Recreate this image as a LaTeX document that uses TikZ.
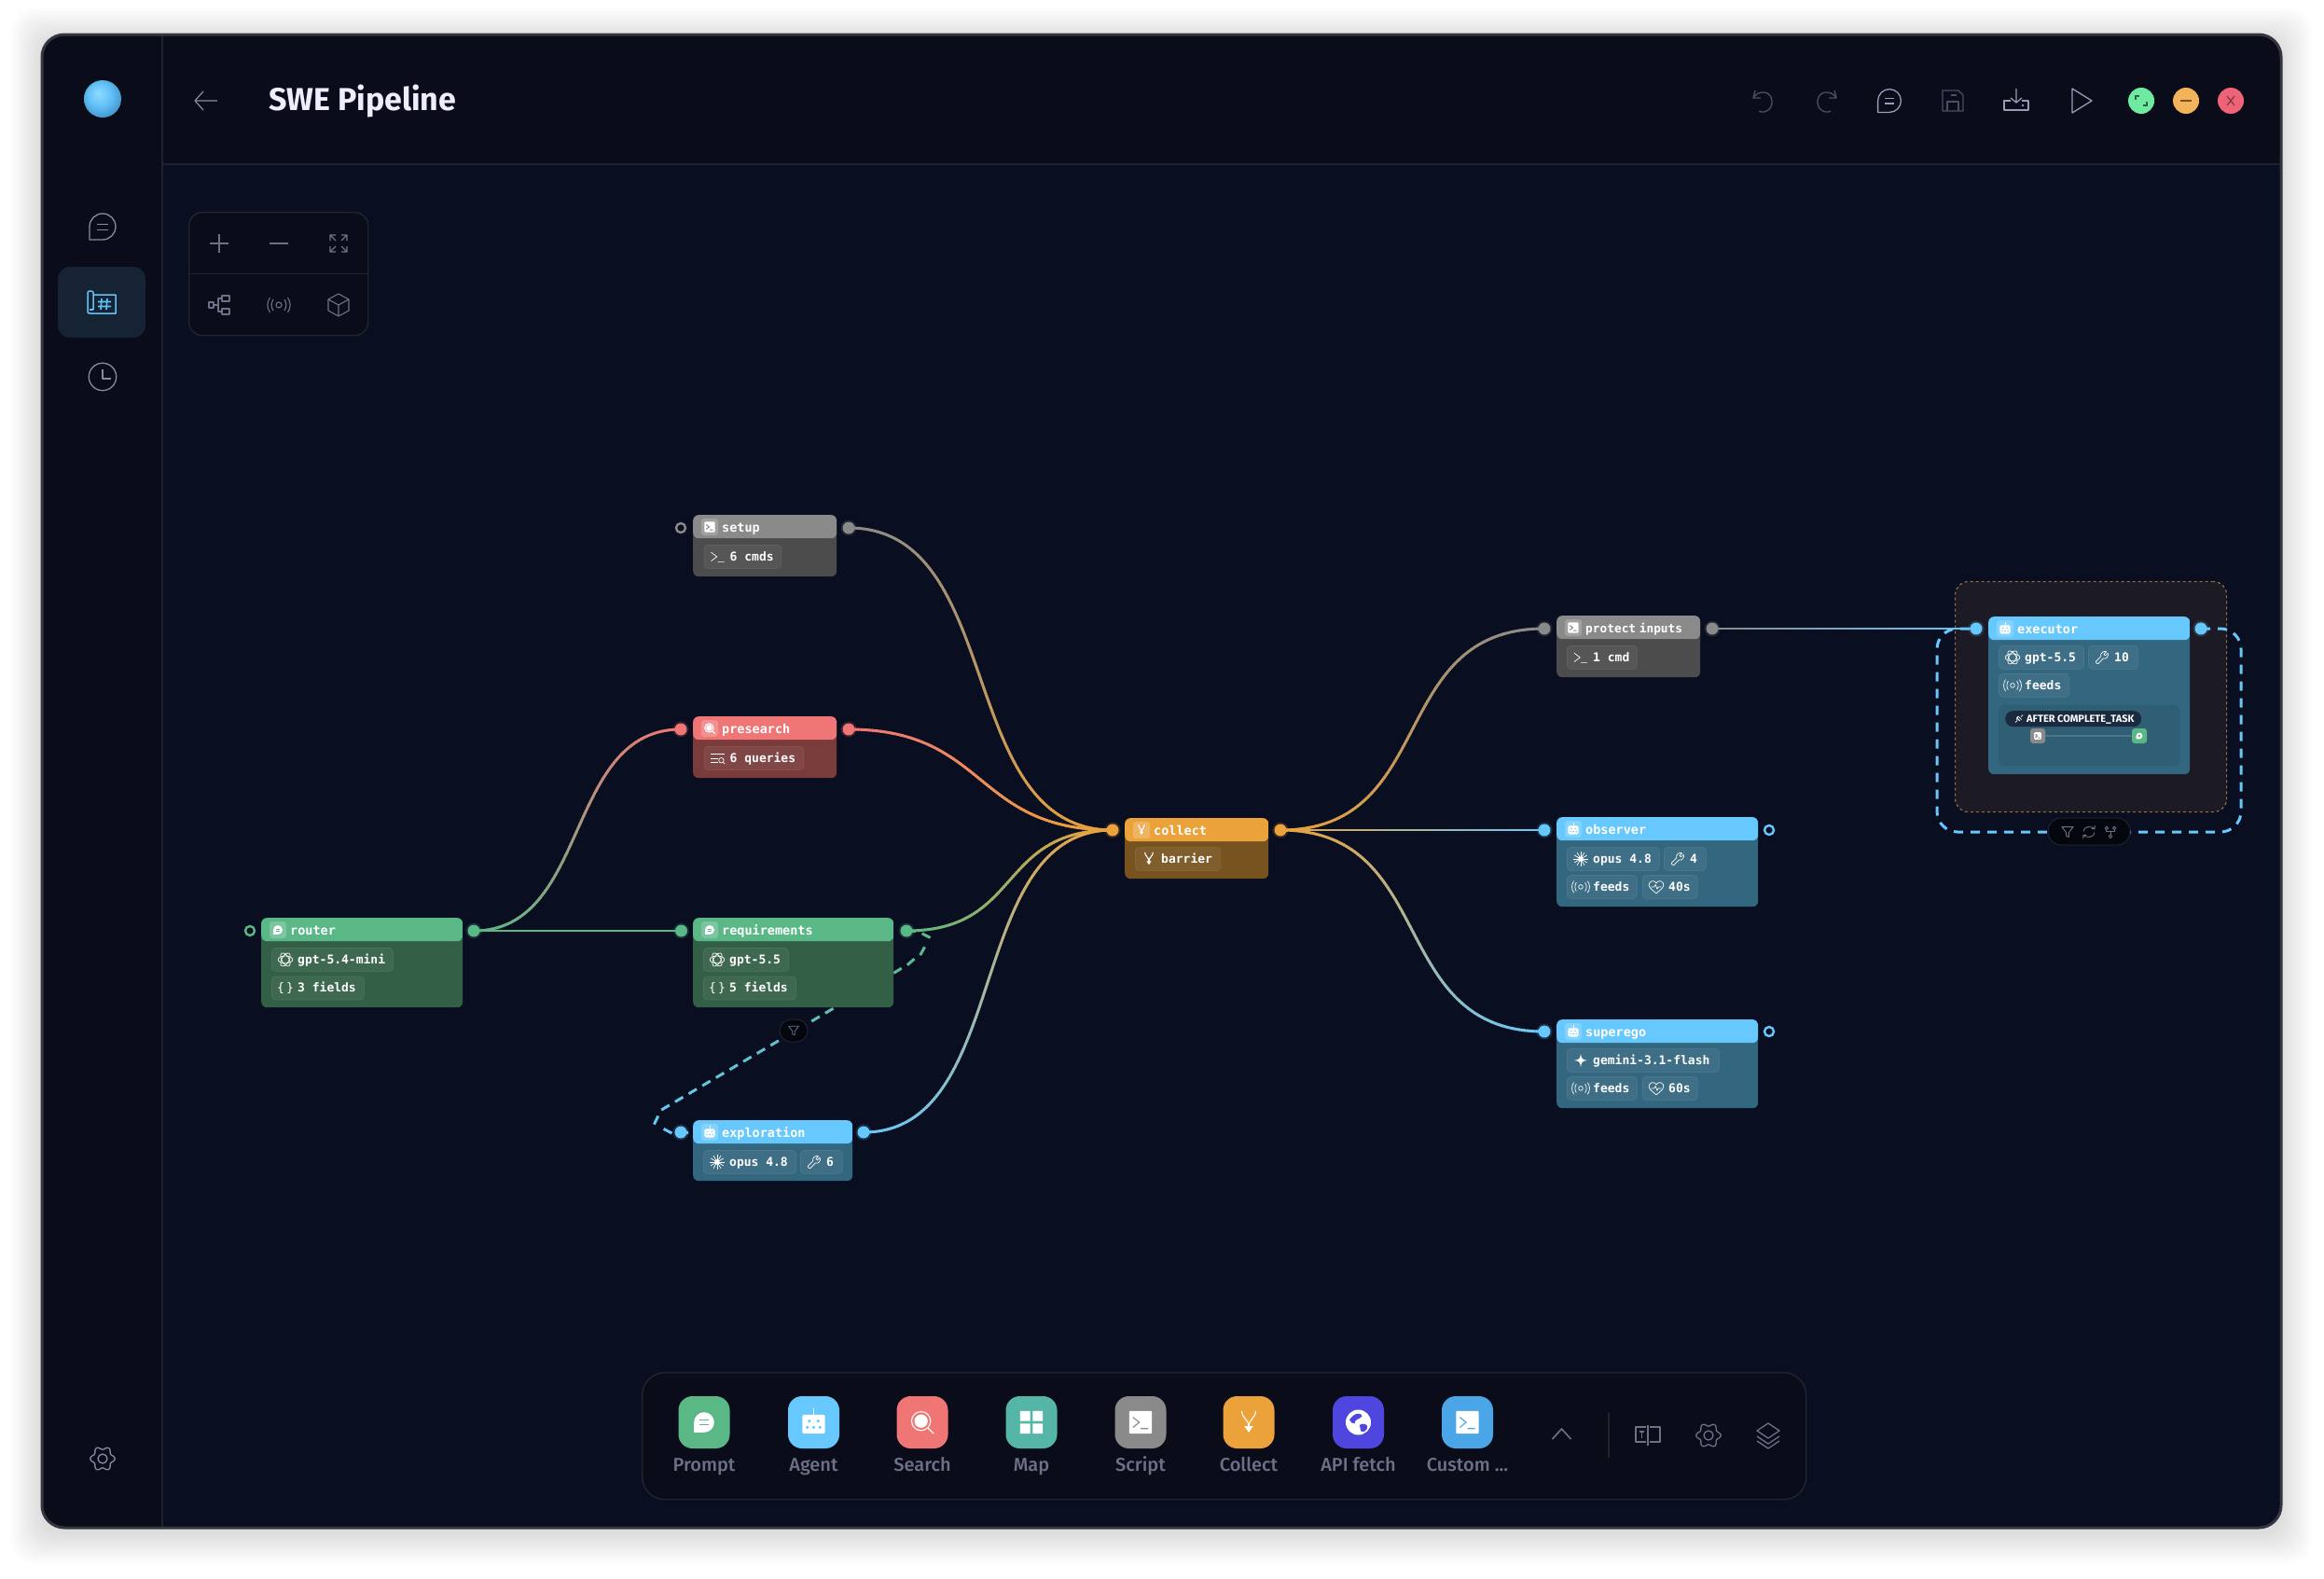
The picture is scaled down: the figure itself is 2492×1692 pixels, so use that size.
\documentclass[tikz,border=0pt]{standalone}
\usepackage{fontspec}
\setmainfont{Fira Sans}
\newfontfamily\wfmono{DejaVu Sans Mono}
\newfontfamily\wfdockfont{Fira Sans Medium}
\usetikzlibrary{
  calc,
  decorations.markings,
}
\pgfdeclarelayer{background}
\pgfdeclarelayer{edges}
\pgfsetlayers{background,edges,main}

% Palette
\definecolor{sideBg}{HTML}{0A0D19}
\definecolor{canvasBg}{HTML}{090E20}
\definecolor{frameLine}{HTML}{34353F}
\definecolor{splitLine}{HTML}{1D202D}
\definecolor{panelLine}{HTML}{22242E}
\definecolor{uiBright}{HTML}{959DB8}
\definecolor{uiSide}{HTML}{868BA3}
\definecolor{uiMid}{HTML}{6C7188}
\definecolor{uiDim}{HTML}{4A4F63}
\definecolor{planBlue}{HTML}{62C3F7}
\definecolor{promptHead}{HTML}{5AB886}
\definecolor{promptBody}{HTML}{335F47}
\definecolor{agentHead}{HTML}{66C8FC}
\definecolor{agentBody}{HTML}{33667F}
\definecolor{searchHead}{HTML}{F07575}
\definecolor{searchBody}{HTML}{7A3B3B}
\definecolor{scriptHead}{HTML}{8A8A8A}
\definecolor{scriptBody}{HTML}{4C4C4C}
\definecolor{collectHead}{HTML}{EBA23B}
\definecolor{collectBody}{HTML}{77531F}
\definecolor{mapHead}{HTML}{55B6A8}
\definecolor{fetchHead}{HTML}{4F46E0}
\definecolor{customHead}{HTML}{4BA6E8}
\definecolor{groupFill}{HTML}{1C1A25}
\definecolor{groupLine}{HTML}{9A7040}
\definecolor{hookBadge}{HTML}{1A2A3F}
\definecolor{badgeFill}{HTML}{04060E}
\definecolor{winGreen}{HTML}{6EEBA0}
\definecolor{winOrange}{HTML}{F2B35A}
\definecolor{winRed}{HTML}{EE6378}

\pgfdeclareradialshading{logoball}{\pgfpoint{-6bp}{8bp}}{
  rgb(0bp)=(.56,.86,1); rgb(16bp)=(.38,.75,.97); rgb(32bp)=(.24,.55,.75); rgb(50bp)=(.2,.45,.62)}

\tikzset{
  x=1pt,
  y=-1pt,
  wflabel/.style={
    anchor=base west,
    inner sep=0pt,
    text=white,
    font=\wfmono\bfseries\fontsize{13.5}{14}\selectfont
  },
  wfpilltext/.style={
    anchor=base west,
    inner sep=0pt,
    text=white!95,
    font=\wfmono\bfseries\fontsize{13}{14}\selectfont
  },
  wfnodebox/.style 2 args={
    anchor=north west,
    inner sep=0pt,
    fill=#2,
    rounded corners=6pt,
    path picture={
      \fill[#1] (path picture bounding box.north west)
        rectangle ([yshift=-25pt]path picture bounding box.north east);
    }
  },
  wficonbox/.style={
    fill=white,
    fill opacity=.2,
    rounded corners=3pt,
    minimum size=18pt,
    inner sep=0pt
  },
  wfpill/.style={
    anchor=north west,
    inner sep=0pt,
    minimum height=25pt,
    rounded corners=4pt,
    fill=white,
    fill opacity=.06,
    draw=white,
    draw opacity=.08,
    line width=.8pt
  },
  wfdot/.style={
    circle,
    fill=#1,
    minimum size=13pt,
    inner sep=0pt,
    preaction={draw=#1,line width=4pt,draw opacity=.18}
  },
  wfopen/.style={
    circle,
    draw=#1,
    fill=canvasBg,
    line width=2.4pt,
    minimum size=10pt,
    inner sep=0pt
  },
  wfflow/.style 2 args={
    decoration={
      markings,
      mark=between positions 0 and 1 step 3pt with {
        \pgfmathsetmacro\wfpct{min(100,100*(\pgfkeysvalueof{/pgf/decoration/mark info/distance from start}/\pgfdecoratedpathlength))}
        \draw[line width=2.9pt,color={#2!\wfpct!#1}] (-2.2,0) -- (2.2,0);
      }
    },
    decorate
  },
  wfdashflow/.style 2 args={
    decoration={
      markings,
      mark=between positions 0 and 1 step 17pt with {
        \pgfmathsetmacro\wfpct{min(100,100*(\pgfkeysvalueof{/pgf/decoration/mark info/distance from start}/\pgfdecoratedpathlength))}
        \draw[line width=3pt,color={#2!\wfpct!#1}] (0,0) -- (10,0);
      }
    },
    decorate
  },
  wfloop/.style={
    draw=agentHead,
    line width=3pt,
    dash pattern=on 10pt off 8pt,
    rounded corners=22pt
  },
  wfbadge/.style={
    fill=badgeFill,
    draw=panelLine,
    line width=1pt,
    inner sep=0pt
  },
  wftile/.style={
    rounded corners=15pt,
    minimum width=55pt,
    minimum height=56pt,
    inner sep=0pt
  },
  wftilelabel/.style={
    anchor=base,
    inner sep=0pt,
    text=uiMid,
    font=\wfdockfont\fontsize{20}{21}\selectfont
  },
  wfpanel/.style={
    fill=sideBg,
    draw=panelLine,
    line width=1.4pt,
    anchor=north west,
    inner sep=0pt
  },
  wfui/.style={
    color=#1,
    line width=1.3pt,
    line join=round
  },
  wficon/.style={
    color=white!85,
    line width=.7pt,
    line join=round
  },
  % marks of the block kinds, box of about 20 by 20
  markprompt/.pic={
    \fill (-8,8) -- (-8,0) .. controls (-8,-4.4) and (-4.4,-8) .. (0,-8)
      .. controls (4.4,-8) and (8,-4.4) .. (8,0)
      .. controls (8,4.4) and (4.4,8) .. (0,8) -- cycle;
    \draw[promptHead,line width=1pt] (-3.5,-1.5) -- (3.5,-1.5) (-3.5,2) -- (3.5,2);
  },
  markagent/.pic={
    \fill[rounded corners=2pt] (-9,-6) rectangle (9,9);
    \draw[line width=.8pt] (0,-6) -- (0,-11);
    \foreach \px/\py in {-3.5/-1,3.5/-1,-5/4,0/4,5/4} {
      \fill[agentHead] (\px,\py) circle (1.3);
    }
  },
  markscript/.pic={
    \fill[rounded corners=1pt] (-9,-9) rectangle (9,9);
    \draw[scriptHead,line width=1.1pt] (-6,-4) -- (-1,0) -- (-6,4) (0,5) -- (6,5);
  },
  markcustom/.pic={
    \fill[rounded corners=1pt] (-9,-9) rectangle (9,9);
    \draw[customHead,line width=1.1pt] (-6,-4) -- (-1,0) -- (-6,4) (0,5) -- (6,5);
  },
  marksearch/.pic={
    \draw[line width=1.1pt] (-1,-1) circle (7.5);
    \fill (-1,-1) circle (5.3);
    \draw[line width=1.1pt] (4.5,4.5) -- (9,9);
  },
  markcollect/.pic={
    \draw[line width=1.1pt] (-5.5,-9) .. controls (-5.5,-3) and (0,-3) .. (0,4)
      (5.5,-9) .. controls (5.5,-3) and (0,-3) .. (0,4);
    \fill (-3.5,3) -- (3.5,3) -- (0,8) -- cycle;
  },
  markmap/.pic={
    \fill (-9,-9) rectangle (-1,-1) (1,-9) rectangle (9,-1)
      (-9,1) rectangle (-1,9) (1,1) rectangle (9,9);
  },
  markfetch/.pic={
    \fill (0,0) circle (10);
    \fill[fetchHead] (-7,-2) .. controls (-3,-8) and (2,-8) .. (3,-5)
      .. controls (1,-2) and (-3,-3) .. (-3,1) .. controls (-5,1) and (-6,0) .. (-7,-2);
    \fill[fetchHead] (1,2) .. controls (5,0) and (8,2) .. (7,5)
      .. controls (5,8) and (3,8) .. (2,7) -- cycle;
  },
  % icons of the pills
  iconopenai/.pic={
    \foreach \a in {0,60,120} {
      \draw[rotate=\a] (0,0) ellipse [x radius=10,y radius=5];
    }
  },
  iconspark/.pic={
    \foreach \a in {0,30,...,330} {
      \draw[rotate=\a] (0,0) -- (10,0);
    }
    \fill (0,0) circle (3.5);
  },
  icongem/.pic={
    \fill (0,-9) .. controls (1,-2) and (2,-1) .. (9,0)
      .. controls (2,1) and (1,2) .. (0,9)
      .. controls (-1,2) and (-2,1) .. (-9,0)
      .. controls (-2,-1) and (-1,-2) .. (0,-9);
  },
  iconwrench/.pic={
    \draw (-8.5,5.5) -- (-1.5,-1.5) .. controls (-3,-6) and (2,-9.5) .. (6,-8)
      -- (2.5,-4.5) -- (4.5,-2.5) -- (8,-6) .. controls (9.5,-2) and (6,3) .. (1.5,1.5)
      -- (-5.5,8.5) .. controls (-7,9.5) and (-9.5,7) .. (-8.5,5.5) -- cycle;
  },
  iconbraces/.pic={
    \node[inner sep=0pt,text=white!85,font=\wfmono\fontsize{13}{14}\selectfont] {\{\,\}};
  },
  iconcmd/.pic={
    \draw (-9,-6) -- (-1,0) -- (-9,6) (0,7) -- (9,7);
  },
  iconqueries/.pic={
    \draw (-9,-6) -- (9,-6) (-9,0) -- (0,0) (-9,6) -- (0,6);
    \draw (5,3) circle (3.5) (7.5,5.5) -- (10,8);
  },
  iconfeeds/.pic={
    \draw (0,0) circle (3);
    \draw (-6,-6) .. controls (-8.5,-2) and (-8.5,2) .. (-6,6)
      (6,-6) .. controls (8.5,-2) and (8.5,2) .. (6,6)
      (-9.5,-8) .. controls (-13,-3) and (-13,3) .. (-9.5,8)
      (9.5,-8) .. controls (13,-3) and (13,3) .. (9.5,8);
  },
  iconpulse/.pic={
    \draw (0,9) -- (-8,2) .. controls (-13,-3) and (-8,-9) .. (-4,-8)
      .. controls (-2,-8) and (-1,-6) .. (0,-5)
      .. controls (1,-6) and (2,-8) .. (4,-8)
      .. controls (8,-9) and (13,-3) .. (8,2) -- cycle;
    \draw (-7,0) -- (-3,0) -- (-1,-3) -- (1,3) -- (3,0) -- (7,0);
  },
  iconfunnel/.pic={
    \draw (-9,-8) -- (9,-8) -- (2,1) -- (2,8) -- (-2,6) -- (-2,1) -- cycle;
  },
  iconcycle/.pic={
    \draw (-9,-1) .. controls (-8,-9) and (4,-10) .. (9,-5)
      (9,-10) -- (9,-5) -- (4,-5)
      (9,1) .. controls (8,9) and (-4,10) .. (-9,5)
      (-9,10) -- (-9,5) -- (-4,5);
  },
  iconbranch/.pic={
    \draw (-6,-6) circle (2.5) (6,-6) circle (2.5) (0,7) circle (2.5);
    \draw (-6,-3.5) -- (-6,-1) -- (6,-1) -- (6,-3.5) (0,-1) -- (0,4.5);
  },
  iconplug/.pic={
    \draw (-8,8) -- (-4,4) (8,-8) -- (4,-4)
      (-5,-2) -- (2,5) (-2,-5) -- (5,2) (-5,-2) -- (-2,-5);
    \draw (-3,-3) .. controls (-7,1) and (-4,6) .. (0,3);
  },
  % icons of the window
  iconchat/.pic={
    \draw (-8,8) -- (-8,0) .. controls (-8,-4.4) and (-4.4,-8) .. (0,-8)
      .. controls (4.4,-8) and (8,-4.4) .. (8,0)
      .. controls (8,4.4) and (4.4,8) .. (0,8) -- cycle;
    \draw (-3.5,-1.5) -- (3.5,-1.5) (-3.5,2) -- (3.5,2);
  },
  iconplan/.pic={
    \draw[rounded corners=2pt] (-15,9) -- (-15,-12) -- (-9,-12) -- (-9,8);
    \draw (-15,9) .. controls (-15,12) .. (-12,12) -- (15,12) -- (15,-8) -- (-9,-8);
    \draw (-9,8) -- (-13,8);
    \draw[line width=1.6pt] (0,-4) -- (-1,8) (6,-4) -- (5,8) (-4,-.5) -- (10,-.5) (-4,4.5) -- (10,4.5);
  },
  iconclock/.pic={
    \draw (0,0) circle (14);
    \draw (0,-8) -- (0,2) -- (9,2);
  },
  icongear/.pic={
    \draw plot[domain=0:360,samples=73,smooth] ({(11.5+1.7*cos(6*\x))*cos(\x)},{(11.5+1.7*cos(6*\x))*sin(\x)}) -- cycle;
    \draw (0,0) circle (5);
  },
  iconback/.pic={
    \draw (12,0) -- (-12,0) (-3,-10) -- (-12,0) -- (-3,10);
  },
  iconundo/.pic={
    \draw (-8,-11) -- (-10,-3) -- (-2,-3);
    \draw (-10,-3) .. controls (-6,-11) and (9,-12) .. (10,0)
      .. controls (11,11) and (0,14) .. (-4,11);
  },
  iconsave/.pic={
    \draw (-11,-11) -- (6,-11) -- (11,-6) -- (11,11) -- (-11,11) -- cycle;
    \draw (-6,11) -- (-6,1) -- (6,1) -- (6,11) (-2,-6) -- (4,-6);
  },
  icondownload/.pic={
    \draw (0,-13) -- (0,2) (-6,-3) -- (0,2) -- (6,-3);
    \draw (-6,0) -- (-13,0) -- (-13,10) -- (13,10) -- (13,0) -- (6,0);
    \fill (7,5) circle (1.3);
  },
  iconplay/.pic={
    \draw (-10,-13) -- (-10,13) -- (11,0) -- cycle;
  },
  iconplus/.pic={
    \draw (-10,0) -- (10,0) (0,-10) -- (0,10);
  },
  iconminus/.pic={
    \draw (-10,0) -- (10,0);
  },
  iconexpand/.pic={
    \draw (-9,-3) -- (-9,-9) -- (-3,-9) (-9,-9) -- (-3,-3)
      (3,-9) -- (9,-9) -- (9,-3) (9,-9) -- (3,-3)
      (-9,3) -- (-9,9) -- (-3,9) (-9,9) -- (-3,3)
      (3,9) -- (9,9) -- (9,3) (9,9) -- (3,3);
  },
  icontree/.pic={
    \draw (-11,-3) rectangle (-6,3) (3,-10) rectangle (11,-4) (3,4) rectangle (11,10);
    \draw (-6,0) -- (-1,0) (3,-7) -- (-1,-7) -- (-1,7) -- (3,7);
  },
  iconcube/.pic={
    \draw (0,-12) -- (11,-6) -- (11,6) -- (0,12) -- (-11,6) -- (-11,-6) -- cycle;
    \draw (-11,-6) -- (0,0) -- (11,-6) (0,0) -- (0,12);
  },
  iconchevron/.pic={
    \draw (-10,5) -- (0,-6) -- (10,5);
  },
  iconpanel/.pic={
    \draw (-2,-9) -- (-13,-9) -- (-13,7) -- (-2,7) (0,-11) -- (0,11)
      (2,-9) -- (13,-9) -- (13,7) -- (2,7);
    \draw (-9,-4) -- (-4,-4) (-6.5,-4) -- (-6.5,3);
  },
  iconlayers/.pic={
    \draw (0,-13) -- (12,-5) -- (0,3) -- (-12,-5) -- cycle;
    \draw (-12,1) -- (0,9) -- (12,1) (-12,6) -- (0,14) -- (12,6);
  },
}

% name, kind, x, y, width, height, title
\newcommand{\wfblock}[7]{
  \node[wfnodebox={#2Head}{#2Body},minimum width=#5,minimum height=#6] (#1) at (#3,#4) {};
  \node[wficonbox] (#1mark) at ([xshift=18,yshift=-13]#1.north west) {};
  \pic[scale=.62,color=white,line width=.8pt] at (#1mark) {mark#2};
  \node[wflabel] (#1title) at ([xshift=31,yshift=-18]#1.north west) {#7};
}
% name, x, y, width, icon, text
\newcommand{\wfchip}[6]{
  \node[wfpill,minimum width=#4] (#1) at (#2,#3) {};
  \pic[wficon,scale=.78] at ([xshift=15]#1.west) {#5};
  \node[wfpilltext] (#1text) at ([xshift=28,yshift=-4.5]#1.west) {#6};
}
% x, kind, label
\newcommand{\wfdock}[3]{
  \node[wftile,fill=#2Head] (tile#2) at (#1,1525) {};
  \pic[scale=1.35,color=white,line width=1.3pt] at (tile#2) {mark#2};
  \node[wftilelabel] (label#2) at (#1,1577.5) {#3};
}

\begin{document}
\begin{tikzpicture}
\useasboundingbox (0,0) rectangle (2492,1692);

\begin{pgfonlayer}{background}
\fill[white] (0,0) rectangle (2492,1692);
\foreach \s in {3,6,...,33} {
  \fill[black,opacity=.012,rounded corners=24pt] (45-\s,37-\s+5) rectangle (2446+\s,1638+\s+5);
}
\fill[sideBg,rounded corners=24pt] (45,37) rectangle (2446,1638);
\begin{scope}
  \clip[rounded corners=24pt] (45,37) rectangle (2446,1638);
  \fill[canvasBg] (175,177) rectangle (2446,1638);
  \draw[splitLine,line width=2.4pt] (174,37) -- (174,1638);
  \draw[splitLine,line width=2.4pt] (174,176) -- (2446,176);
\end{scope}
\draw[frameLine,line width=3pt,rounded corners=24pt] (45,37) rectangle (2446,1638);
\node[wfpanel,rounded corners=14pt,dashed,draw=groupLine,line width=1.1pt,fill=groupFill,
  minimum width=291,minimum height=247] (execgroup) at (2096,623) {};
\end{pgfonlayer}

% sidebar
\node[circle,minimum size=40,inner sep=0pt,shading=logoball] (logo) at (110,106) {};
\pic[wfui=uiSide,scale=1.75] at (110,243) {iconchat};
\node[fill=planBlue!12!sideBg,rounded corners=13pt,minimum width=94,minimum height=76,inner sep=0pt] (plantab) at (109,324) {};
\pic[wfui=planBlue,line width=1.5pt] at (plantab) {iconplan};
\pic[wfui=uiSide,scale=1.05] at (110,404) {iconclock};
\pic[wfui=uiSide] at (110,1564) {icongear};

% header
\pic[wfui=uiSide,line width=1.2pt] at (221,108) {iconback};
\node[anchor=base west,inner sep=0pt,text=white!93!blue,font=\bfseries\fontsize{34}{36}\selectfont] (title) at (288,118) {SWE Pipeline};
\pic[wfui=uiDim] at (1890,108) {iconundo};
\pic[wfui=uiDim,xscale=-1] at (1959,108) {iconundo};
\pic[wfui=uiBright,scale=1.55] at (2026,108) {iconchat};
\pic[wfui=uiDim] at (2094,108) {iconsave};
\pic[wfui=uiBright] at (2162,108) {icondownload};
\pic[wfui=uiBright] at (2232,108) {iconplay};
\node[circle,fill=winGreen,minimum size=28,inner sep=0pt] (winmax) at (2296,108) {};
\draw[promptBody,line width=1.1pt] (2290,107) -- (2290,103) -- (2294,103) (2302,109) -- (2302,113) -- (2298,113);
\node[circle,fill=winOrange,minimum size=28,inner sep=0pt] (winmin) at (2344,108) {};
\draw[collectBody,line width=1.4pt] (2338,108) -- (2350,108);
\node[circle,fill=winRed,minimum size=28,inner sep=0pt] (winclose) at (2392,108) {};
\draw[searchBody,line width=1.2pt] (2388,103) -- (2396,113) (2396,103) -- (2388,113);

% zoom panel
\node[wfpanel,rounded corners=14pt,minimum width=192,minimum height=132] (zoompanel) at (202,227) {};
\draw[panelLine,line width=1.4pt] (zoompanel.west) -- (zoompanel.east);
\pic[wfui=uiMid,line width=1.1pt] at (235,261) {iconplus};
\pic[wfui=uiMid,line width=1.1pt] at (299,261) {iconminus};
\pic[wfui=uiMid,line width=1.1pt] at (363,261) {iconexpand};
\pic[wfui=uiMid,line width=1.1pt] at (235,327) {icontree};
\pic[wfui=uiMid,line width=1.1pt,scale=1] at (299,327) {iconfeeds};
\pic[wfui=uiMid,line width=1.1pt] at (363,327) {iconcube};

% blocks
\wfblock{setup}{script}{743}{552}{154}{66}{setup}
\wfchip{setupcmds}{754.5}{584}{83}{iconcmd}{6 cmds}
\wfblock{presearch}{search}{743}{768}{154}{66}{presearch}
\wfchip{presearchq}{754.5}{800}{107}{iconqueries}{6 queries}
\wfblock{router}{prompt}{280}{984}{216}{96}{router}
\wfchip{routermodel}{291}{1016}{130}{iconopenai}{gpt-5.4-mini}
\wfchip{routerfields}{291}{1046.5}{99}{iconbraces}{3 fields}
\wfblock{requirements}{prompt}{743}{984}{215}{96}{requirements}
\wfchip{reqmodel}{754}{1016}{91}{iconopenai}{gpt-5.5}
\wfchip{reqfields}{754}{1046.5}{99}{iconbraces}{5 fields}
\wfblock{exploration}{agent}{743}{1201}{171}{65}{exploration}
\wfchip{explmodel}{754}{1233}{99}{iconspark}{opus 4.8}
\wfchip{expltools}{858}{1233}{45}{iconwrench}{6}
\wfblock{collect}{collect}{1206}{877}{154}{65}{collect}
\wfchip{collectmode}{1217}{908}{91.5}{markcollect}{barrier}
\wfblock{protect}{script}{1669}{660}{154}{66}{\fontsize{12.8}{14}\selectfont protect\kern-4pt\ inputs}
\wfchip{protectcmds}{1680}{692}{75}{iconcmd}{1 cmd}
\wfblock{observer}{agent}{1669}{876}{216}{96}{observer}
\wfchip{obsmodel}{1680}{908}{99}{iconspark}{opus 4.8}
\wfchip{obstools}{1784}{908}{45}{iconwrench}{4}
\wfchip{obsfeeds}{1680}{938}{75}{iconfeeds}{feeds}
\wfchip{obsbeat}{1761}{938}{59}{iconpulse}{40s}
\wfblock{superego}{agent}{1669}{1093}{216}{95}{superego}
\wfchip{supermodel}{1680}{1124}{163}{icongem}{gemini-3.1-flash}
\wfchip{superfeeds}{1680}{1154}{75}{iconfeeds}{feeds}
\wfchip{superbeat}{1761}{1154}{59}{iconpulse}{60s}
\wfblock{executor}{agent}{2132}{661}{216}{169}{executor}
\wfchip{execmodel}{2143}{692}{91}{iconopenai}{gpt-5.5}
\wfchip{exectools}{2239}{692}{53}{iconwrench}{10}
\wfchip{execfeeds}{2143}{722}{75}{iconfeeds}{feeds}

% hook inside executor
\node[anchor=north west,fill=black,fill opacity=.08,rounded corners=5pt,inner sep=0pt,minimum width=194,minimum height=65] (hookbox) at (2143,756) {};
\node[anchor=north west,fill=hookBadge,rounded corners=8.5pt,inner sep=0pt,minimum width=146,minimum height=17] (hookbadge) at (2150,762) {};
\pic[wficon,scale=.5] at (2165,770.5) {iconplug};
\node[anchor=base west,inner sep=0pt,text=white!90,font=\bfseries\fontsize{11}{12}\selectfont] (hooktext) at (2173,774.5) {AFTER COMPLETE\_TASK};
\node[fill=scriptHead,rounded corners=3pt,minimum size=16,inner sep=0pt] (hookscript) at (2185,789) {};
\pic[scale=.42,color=white,line width=.6pt] at (hookscript) {markscript};
\node[fill=promptHead,rounded corners=3pt,minimum size=16,inner sep=0pt] (hookprompt) at (2294,789) {};
\pic[scale=.42,color=white,line width=.6pt] at (hookprompt) {markprompt};
\draw[white,draw opacity=.15,line width=1.4pt] (hookscript) -- (hookprompt);

% handles
\node[wfopen=scriptHead] (setupin) at (730,566) {};
\node[wfdot=scriptHead] (setupout) at (910,566) {};
\node[wfdot=searchHead] (presearchin) at (730,782) {};
\node[wfdot=searchHead] (presearchout) at (910,782) {};
\node[wfopen=promptHead] (routerin) at (268,998) {};
\node[wfdot=promptHead] (routerout) at (508,998) {};
\node[wfdot=promptHead] (reqin) at (730.5,998) {};
\node[wfdot=promptHead] (reqout) at (972,998) {};
\node[wfdot=agentHead] (explin) at (730,1214) {};
\node[wfdot=agentHead] (explout) at (926,1214) {};
\node[wfdot=collectHead] (collectin) at (1193,890) {};
\node[wfdot=collectHead] (collectout) at (1373,890) {};
\node[wfdot=scriptHead] (protectin) at (1656,674) {};
\node[wfdot=scriptHead] (protectout) at (1836,674) {};
\node[wfdot=agentHead] (obsin) at (1656,890) {};
\node[wfopen=agentHead] (obsout) at (1897,890) {};
\node[wfdot=agentHead] (superin) at (1656,1106) {};
\node[wfopen=agentHead] (superout) at (1897,1106) {};
\node[wfdot=agentHead] (execin) at (2119,674) {};
\node[wfdot=agentHead] (execout) at (2360,674) {};

% connectors
\begin{pgfonlayer}{edges}
\path[wfflow={promptHead}{searchHead}] (routerout.center) .. controls +(125,0) and +(-125,0) .. (presearchin.center);
\path[wfflow={promptHead}{promptHead}] (routerout.center) -- (reqin.center);
\path[wfflow={scriptHead}{collectHead}] (setupout.center) .. controls +(170,0) and +(-170,0) .. (collectin.center);
\path[wfflow={searchHead}{collectHead}] (presearchout.center) .. controls +(150,0) and +(-150,0) .. (collectin.center);
\path[wfflow={promptHead}{collectHead}] (reqout.center) .. controls +(125,0) and +(-125,0) .. (collectin.center);
\path[wfflow={agentHead}{collectHead}] (explout.center) .. controls +(160,0) and +(-160,0) .. (collectin.center);
\path[wfflow={collectHead}{scriptHead}] (collectout.center) .. controls +(170,0) and +(-170,0) .. (protectin.center);
\path[wfflow={collectHead}{agentHead}] (collectout.center) -- (obsin.center);
\path[wfflow={collectHead}{agentHead}] (collectout.center) .. controls +(170,0) and +(-170,0) .. (superin.center);
\path[wfflow={scriptHead}{agentHead}] (protectout.center) -- (execin.center);
\path[wfdashflow={promptHead}{agentHead}] (reqout.center) .. controls (1012,998) and (990,1026) .. (960,1042)
  -- (716,1186) .. controls (695,1200) and (705,1214) .. (explin.center);
\draw[wfloop] (execout.center) -- (2403,674) -- (2403,892) -- (2077,892) -- (2077,674) -- (execin.center);
\end{pgfonlayer}

% edge badges
\node[wfbadge,rounded corners=12pt,minimum width=30,minimum height=24] (reqfilter) at (851,1105) {};
\pic[wfui=uiMid,line width=.8pt,scale=.6] at (reqfilter) {iconfunnel};
\node[wfbadge,rounded corners=14pt,minimum width=88,minimum height=29] (loopbadge) at (2240,891.5) {};
\pic[wfui=uiMid,line width=.9pt,scale=.68] at (2217,892) {iconfunnel};
\pic[wfui=uiMid,line width=.9pt,scale=.68] at (2240,892) {iconcycle};
\pic[wfui=uiMid,line width=.9pt,scale=.68] at (2263,892) {iconbranch};

% dock
\node[wfpanel,rounded corners=24pt,minimum width=1248,minimum height=136] (dock) at (688,1471) {};
\wfdock{755}{prompt}{Prompt}
\wfdock{872.5}{agent}{Agent}
\wfdock{989}{search}{Search}
\wfdock{1106}{map}{Map}
\wfdock{1223}{script}{Script}
\wfdock{1339}{collect}{Collect}
\wfdock{1456.5}{fetch}{API fetch}
\wfdock{1573.5}{custom}{Custom ...}
\pic[wfui=uiMid,line width=1.6pt] at (1674.5,1538) {iconchevron};
\draw[panelLine,line width=1.4pt] (1725,1515) -- (1725,1563);
\pic[wfui=uiMid] at (1767,1539) {iconpanel};
\pic[wfui=uiMid] at (1832,1539) {icongear};
\pic[wfui=uiMid] at (1896,1539) {iconlayers};
\end{tikzpicture}
\end{document}
